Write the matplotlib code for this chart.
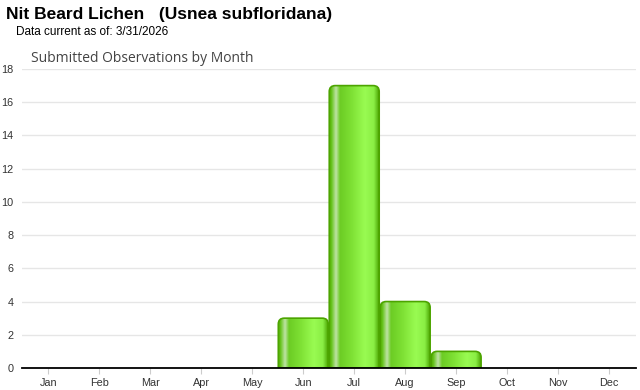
import numpy as np
import matplotlib
matplotlib.use("Agg")
import matplotlib.pyplot as plt
from matplotlib.path import Path
from matplotlib.patches import PathPatch
from matplotlib.colors import LinearSegmentedColormap

months = ["Jan", "Feb", "Mar", "Apr", "May", "Jun", "Jul", "Aug", "Sep", "Oct", "Nov", "Dec"]
counts = [0, 0, 0, 0, 0, 3, 17, 4, 1, 0, 0, 0]
yticks = [0, 2, 4, 6, 8, 10, 12, 14, 16, 18]

# horizontal shading of each bar, left to right
bar_cmap = LinearSegmentedColormap.from_list("bar", [
    (0.00, "#52a800"), (0.05, "#66c41c"), (0.14, "#bfe3a6"), (0.22, "#6ccc24"),
    (0.45, "#7ee034"), (0.72, "#99fb52"), (0.90, "#8aee44"), (0.96, "#66c420"),
    (1.00, "#4fa600"),
])


def top_rounded(x0, x1, h, rx, ry):
    ry = min(ry, h)
    verts = [(x0, 0), (x0, h - ry), (x0, h), (x0 + rx, h), (x1 - rx, h),
             (x1, h), (x1, h - ry), (x1, 0), (x0, 0)]
    codes = [Path.MOVETO, Path.LINETO, Path.CURVE3, Path.CURVE3, Path.LINETO,
             Path.CURVE3, Path.CURVE3, Path.LINETO, Path.CLOSEPOLY]
    return Path(verts, codes)


fig = plt.figure(figsize=(6.4, 3.9), dpi=100)
ax = fig.add_axes([22 / 640, 1 - 368 / 390, 614 / 640, 299 / 390])

xlim = (-0.52, 11.53)
ax.set_xlim(*xlim)
ax.set_ylim(0, 18)

# pixel -> data scale for rounded corners
px_x = (xlim[1] - xlim[0]) / 614
px_y = 18 / 299
grad = np.linspace(0, 1, 256).reshape(1, -1)

for i, v in enumerate(counts):
    if v <= 0:
        continue
    x0, x1 = i - 0.49, i + 0.49
    path = top_rounded(x0, x1, v, 6 * px_x, 6 * px_y)
    im = ax.imshow(grad, cmap=bar_cmap, extent=(x0, x1, 0, v), aspect="auto",
                   interpolation="bilinear", zorder=2)
    patch = PathPatch(path, facecolor="none", edgecolor="#4ca400", lw=1.2, zorder=3)
    ax.add_patch(patch)
    im.set_clip_path(patch)

ax.set_xlim(*xlim)
ax.set_ylim(0, 18)
ax.set_xticks(range(len(months)))
ax.set_xticklabels(months)
ax.set_yticks(yticks)
ax.grid(axis="y", color="#e6e6e6", lw=1)
ax.set_axisbelow(True)
for s in ["top", "right", "left"]:
    ax.spines[s].set_visible(False)
ax.spines["bottom"].set_color("black")
ax.spines["bottom"].set_linewidth(1.3)
ax.spines["bottom"].set_zorder(4)
ax.tick_params(axis="y", length=0, pad=6, labelsize=7.8, labelcolor="#333333")
ax.tick_params(axis="x", length=4, color="#cccccc", pad=3, labelsize=7.8, labelcolor="#333333")
for lab in ax.get_xticklabels() + ax.get_yticklabels():
    lab.set_fontfamily("Liberation Sans")

fig.text(6 / 640, 1 - 15 / 390, "Nit Beard Lichen   (Usnea subfloridana)",
         fontsize=12.5, fontweight="bold", family="Liberation Sans", va="center")
fig.text(16 / 640, 1 - 32 / 390, "Data current as of: 3/31/2026",
         fontsize=8.5, family="Liberation Sans", va="center")
fig.text(31 / 640, 1 - 58 / 390, "Submitted Observations by Month",
         fontsize=10, family="Open Sans", color="#444444", va="center")

fig.savefig("out.png", dpi=100)
